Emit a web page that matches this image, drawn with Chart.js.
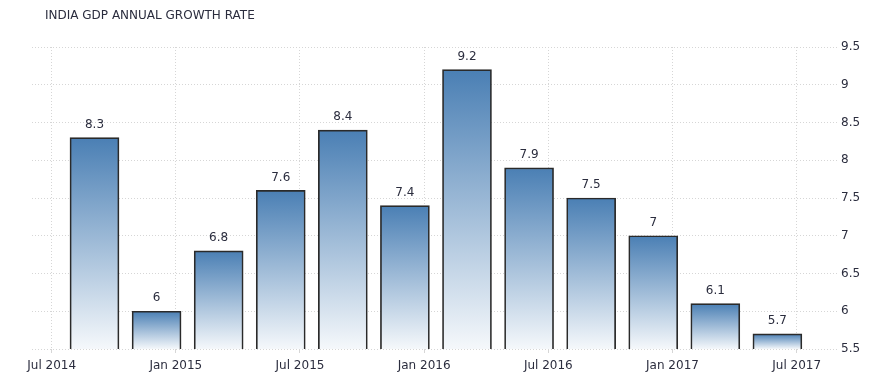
<!DOCTYPE html>
<html>
<head>
<meta charset="utf-8">
<script src="https://cdn.jsdelivr.net/npm/chart.js@4"></script>
<style>
    html, body { margin: 0; padding: 0; background: #fff; }
    #wrap { position: relative; width: 888px; height: 389px; }
    #title {
        position: absolute; left: 45px; top: 8px;
        font: 12px "DejaVu Sans", sans-serif; color: #2b2d3e;
    }
</style>
</head>
<body>
<div id="wrap">
    <div id="title">INDIA GDP ANNUAL GROWTH RATE</div>
    <canvas id="gdp-chart" width="888" height="389"></canvas>
</div>
<script>
// quarters, as months counted from Jul 2014
const quarterMonths = [2.07, 5.07, 8.07, 11.07, 14.07, 17.07, 20.07, 23.07, 26.07, 29.07, 32.07, 35.07];
const growth = [8.3, 6, 6.8, 7.6, 8.4, 7.4, 9.2, 7.9, 7.5, 7, 6.1, 5.7];
const tickMonths = [0, 6, 12, 18, 24, 30, 36];
const tickLabels = ["Jul 2014", "Jan 2015", "Jul 2015", "Jan 2016", "Jul 2016", "Jan 2017", "Jul 2017"];
const yMin = 5.5, yMax = 9.5;

(function(){
    "use strict";

    const textColor = "#2b2d3e";
    const gridColor = "#d6d6d6";

    const valueLabels = {
        id: "valueLabels",
        afterDatasetsDraw(chart) {
            const ctx = chart.ctx;
            const meta = chart.getDatasetMeta(0);
            ctx.save();
            ctx.font = "12px 'DejaVu Sans', sans-serif";
            ctx.fillStyle = textColor;
            ctx.textAlign = "center";
            ctx.textBaseline = "middle";
            meta.data.forEach(function(bar, i){
                ctx.fillText(String(growth[i]), bar.x, bar.y - 13);
            });
            ctx.restore();
        }
    };

    function barGradient(context){
        const chart = context.chart;
        if (!chart.chartArea) return "#4a7fb5";
        const y = chart.scales.y;
        const top = y.getPixelForValue(context.raw.y);
        const bottom = y.getPixelForValue(yMin);
        const g = chart.ctx.createLinearGradient(0, top, 0, bottom);
        g.addColorStop(0, "#4a7fb4");
        g.addColorStop(1, "#f5f8fb");
        return g;
    }

    let ctx = document.getElementById("gdp-chart").getContext("2d");
    new Chart(ctx, {
        type: "bar",
        data: {
            datasets: [
                {
                    data: quarterMonths.map(function(m, i){ return { x: m, y: growth[i] }; }),
                    backgroundColor: barGradient,
                    borderColor: "#2a2a2a",
                    borderWidth: 1.7,
                    borderSkipped: false,
                    barThickness: 49,
                },
            ],
        },
        options: {
            responsive: false,
            animation: false,
            layout: {
                padding: { left: 32, top: 47, right: 0, bottom: 0 },
            },
            plugins: {
                legend: { display: false },
                tooltip: { enabled: false },
            },
            scales: {
                x: {
                    type: "linear",
                    offset: false,
                    min: -0.95,
                    max: 37.95,
                    afterBuildTicks: function(scale){
                        scale.ticks = tickMonths.map(function(v){ return { value: v }; });
                    },
                    afterFit: function(scale){ scale.height = 40; },
                    ticks: {
                        autoSkip: false,
                        maxRotation: 0,
                        padding: 6,
                        color: textColor,
                        font: { family: "DejaVu Sans", size: 12 },
                        callback: function(value){
                            return tickLabels[tickMonths.indexOf(value)];
                        },
                    },
                    grid: {
                        offset: false,
                        color: gridColor,
                        tickLength: 4,
                        drawTicks: true,
                    },
                    border: { display: false, dash: [1, 2] },
                },
                y: {
                    position: "right",
                    min: yMin,
                    max: yMax,
                    afterFit: function(scale){ scale.width = 51; },
                    ticks: {
                        stepSize: 0.5,
                        padding: 4,
                        color: textColor,
                        font: { family: "DejaVu Sans", size: 12 },
                        callback: function(value){ return String(value); },
                    },
                    grid: {
                        color: gridColor,
                        drawTicks: false,
                    },
                    border: { display: false, dash: [1, 2] },
                },
            },
        },
        plugins: [valueLabels],
    });
})();
</script>
</body>
</html>
